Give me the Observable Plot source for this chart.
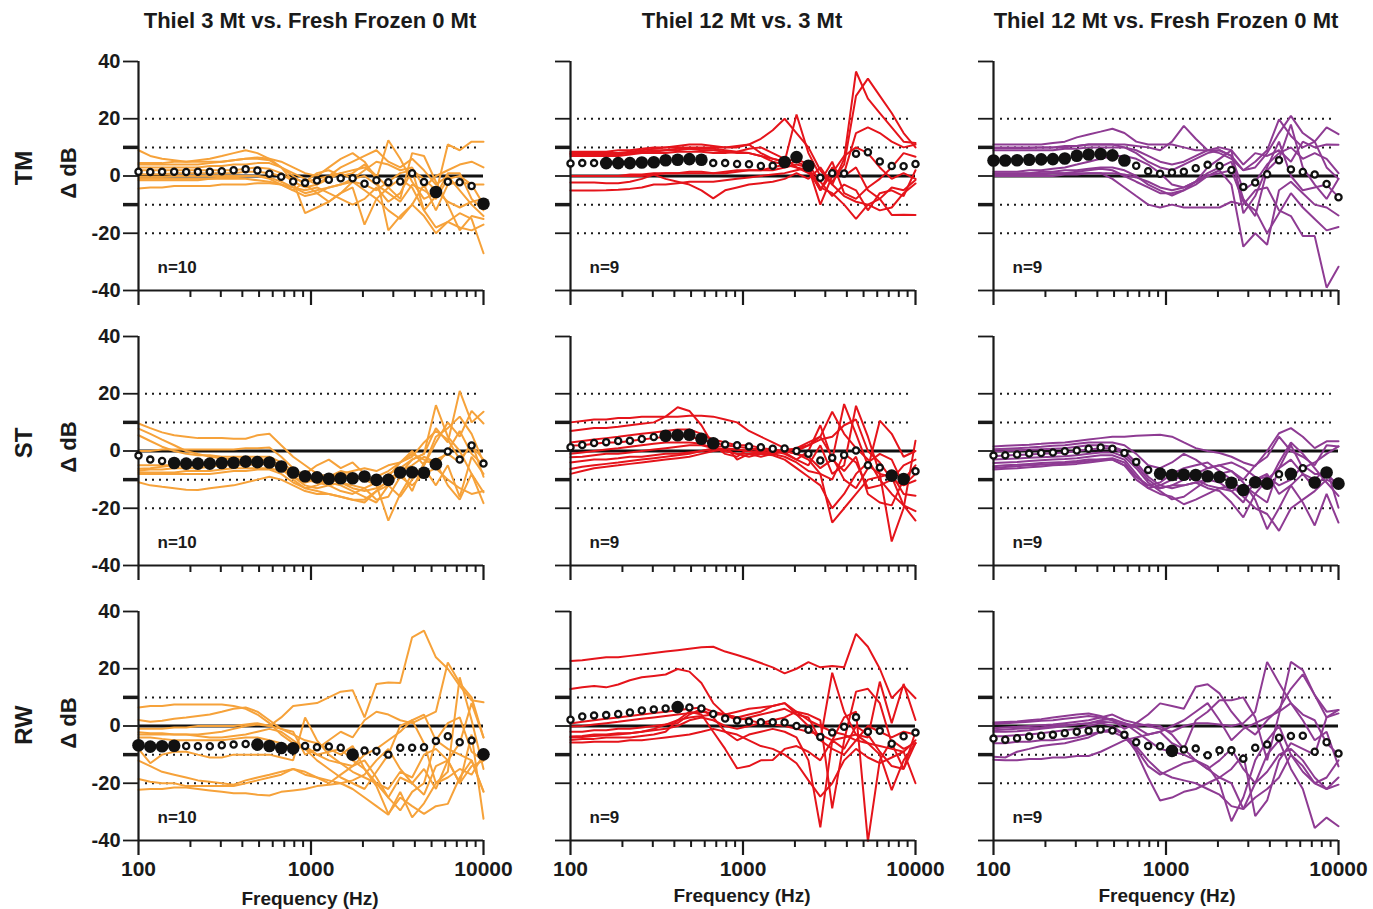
<!DOCTYPE html>
<html><head><meta charset="utf-8">
<script src="https://cdn.jsdelivr.net/npm/d3@7"></script>
<script src="https://cdn.jsdelivr.net/npm/@observablehq/plot@0.6"></script>
<style>
body{margin:0;background:#fff;font-family:"Liberation Sans",Arial,sans-serif;}
#root{position:relative;width:1373px;height:909px;overflow:hidden;background:#fff;}
.lbl{position:absolute;font-weight:bold;color:#1a1a1a;white-space:nowrap;transform:translate(-50%,-50%);line-height:1;}
.rot{transform:translate(-50%,-50%) rotate(-90deg);}
.pan{position:absolute;}
</style></head><body><div id="root"></div>
<script>
// ---- data ----
const freqs = [100,117,137,161,189,221,259,304,356,418,489,574,672,788,924,1083,1269,1487,1743,2043,2395,2807,3290,3857,4520,5298,6210,7279,8532,10000];
const titles = ["Thiel 3 Mt vs. Fresh Frozen 0 Mt","Thiel 12 Mt vs. 3 Mt","Thiel 12 Mt vs. Fresh Frozen 0 Mt"];
const rowNames = ["TM","ST","RW"];
const nLabels = ["n=10","n=9","n=9"];
const xMajorTicks = [100,1000,10000];
const xMinorTicks = [200,300,400,500,600,700,800,900,2000,3000,4000,5000,6000,7000,8000,9000];
const yMajorTicks = [-40,-20,0,20,40];
const yMinorTicks = [-10,10];
const gridValues = [-20,-10,10,20];

// TM, Thiel 3 Mt vs Fresh Frozen 0 Mt
const tmA = [
[9,7,6,5.5,5,5,5,5,5.5,6,6,5.5,3,0,-3,-6,-9,-6,-2,-5,-8,-12,-15,-10,-14,-20,-16,-13,-15,-27],
[4.5,4.5,4.5,5,5,5.5,6,7,8,9,8,6,3,1,-1,-3,0,3,5,7,9,5,3,6,2,-3,0,-5,-10,-14],
[4,4,4,4,4,4,4.5,5,5.5,6,6.5,6,5,3,1,0,3,6,8,5,-1,12.5,6,-2,-8,-6,11,9,12,12],
[3,3,3,3,3,3,3.5,3.5,4,4,4.5,4.5,3,-2,-13,-11,-9,-6,-4,-17,-8,-4,-1,-4,-12,-18,-16,-18,-19,-17],
[2,2,2,2,2,2,2,2,2,2.5,3,2.5,1,-2,-4,-3,-1,1,2,3,0,-19,-14,-10,-3,-12,-3,-2,-3,-3],
[0.6,0.6,0.6,1,1,1,1,1,1,1.5,1.5,1,0,-1,-2,-1,0,1,-1,2,5,4,2,3,-4,0,2,4,5,3],
[-0.3,-0.3,-0.3,0,0,0,0,0,0,0,0,-0.5,-2,-4,-5,-4,-6,-8,-10,-8,-4,-9,-6,2,-1,-5,-9,-11,-9,-8],
[-1,-1,-1,-1,-1,-1,-1,-0.5,-0.5,0,0,-1,-3,-5,-2,1,2,0,1,4,0,-4,-8,8,7,-2,-10,-19,-14,-15],
[-1.5,-1.5,-1.5,-1.5,-1.5,-1.5,-1,-1,-1,-1,-1.5,-2,-3,-5,-7,-6,-4,-3,-1,0,-3,-6,-9,-3,-5,-8,-1,0,-3,-10],
[-4.4,-4,-4,-3.5,-3.5,-3.5,-3.5,-3,-3,-3,-2.5,-2.5,-3,-4,-6,-5,-4,-3,-2,-3,-5,-2,1,2,-12,-7,1,1,-8,-12]];
const tmAMean = [1.5,1.4,1.5,1.5,1.4,1.5,1.5,1.7,2.0,2.4,1.9,0.8,-0.3,-1.9,-2.4,-1.6,-1.3,-0.8,-0.8,-2.7,-1.5,-2.2,-1.9,1.0,-2.1,-5.6,-2.0,-2.2,-3.5,-9.7];
const tmASig = [25,29];

// TM, Thiel 12 Mt vs 3 Mt
const tmB = [
[8.5,8.5,8.5,8.5,9,9,9.5,10,10,10.5,11,11,10.5,10,10,11,13,16,20,15,10,2,-3,6,36.5,27,22,17,12,11.5],
[8,8,8,8,8,8.5,9,9.5,10,10,10,10,10,10,10.5,11,8,6,5,21.5,8,0,-2,4,28,34,28,22,15,10],
[7.5,7.5,7.5,7.5,7.5,8,8,8.5,9,9,9.5,9.5,9.5,9,8.5,8,7,5,4,5,3,-10,0,1,15,17,15,12,10,11],
[7,7,7,7,7,7.5,8,8,8,8.5,8.5,8.5,8,8,8.5,9.5,10,8,6,3,1,-2,5,-6,-8,-4,-1,3,8,6.7],
[0,0,0,0,0,0.5,0.5,1,1,1,1.5,1.5,1,1,1.5,2,2,2,3,4,3,-4,-6,-10,-15,-10,-8,-4,-5,-1.4],
[0,0,0,0,0,0,0,0.5,1,1,1,1,1,1.5,2,2,2,3,4,3,2,-5,3,0,3,-5,-8,-13.6,-13.5,-13.6],
[-2.3,-2.3,-2.3,-2.5,-2.5,-2,-1,0.5,-1,-2,-3,-5,-7.8,-5,-4,-3,-2.5,-2,-1,1,-1,3,-3,-7,-9,-10,-12,-11,-6,-2.6],
[7.8,7.8,7.8,8,8,8,8.5,9,9,9.5,9.5,9,9,8.5,8,8,7,6,5,6,4,-2,-7,-3,-5,-12,-6,-5,-7,2],
[-5.1,-5.1,-5.1,-5,-4.8,-4.5,-4,-3,-3,-2.5,-2,-2,-2,-1.5,-1,-0.5,0,0.5,1,2,3,-5,1,7,10,8,3,-1,1,-1]];
const tmBMean = [4.4,4.5,4.5,4.5,4.5,4.5,4.7,4.8,5.5,5.7,5.9,5.7,4.5,4.5,4.2,4.1,3.5,3.6,4.9,6.6,3.6,-0.6,1.0,0.9,7.8,8.3,5.1,3.5,3.4,4.2];
const tmBSig = [3,4,5,6,7,8,9,10,11,18,19,20];

// TM, Thiel 12 Mt vs Fresh Frozen 0 Mt
const tmC = [
[11,11,11,11,11,11.5,12,13.5,14.5,15.5,16.5,15,12,11,11,11,10,9,9,9,7,2,5,9,19.8,14,10,12,17,14.6],
[10,10,10,10,10,10,10.5,10.5,11,11,11,11,10.5,10,9,12,17.5,13,9,8,6,2,3,8,15,21,15,12,3,-1],
[9,9,9,9,9,9,9.5,9.5,10,10,10,10,9,7,5,4,5,7,9,10,9,4,8,7,9,5,12,10,11,10.9],
[1.5,1.5,1.5,2,2,2.5,3,4,5,6,7,7,6,4,1,-3,-4,-2,3,6,9,-13,-7,3,12,0,-5,-4,-3,-7.4],
[1,1,1,1,1.5,1.5,2,2,2.5,3,3,2,0,-3,-5,-6.8,-5,-2,0,1,2,-9,-12,-20,-13,-6,-11,-15,-19,-17.8],
[0.7,0.7,0.8,1,1,1,1,1.5,2,2.5,2,0,-2,-4,-6,-6,-5,-3,0,2,-3,-24.7,-20,-24,-5,-2,-6,-10,-11,-13.8],
[0.5,0.5,0.5,0.5,0.5,1,1,1,1,1,-1,-4,-7,-10,-11,-10,-11,-11,-11,-11,-9,-10,-5,-4,-12,-14,-21,-21,-39,-31.7],
[0,0,0,0,0,0,0.5,0.5,1,1,1,0.5,-0.5,-2,-4,-5,-4,-2,1,3,5,-8,-14,2,6,18,3,-3,-8,-1],
[9.8,9.8,9.8,9.8,10,10,10,10.5,11,11,11,10,8,5,3,2,4,6,8,9,7,-5,-2,4,8,10,6,8,6,1]];
const tmCMean = [5.4,5.4,5.5,5.7,5.8,5.9,6.1,7.1,7.5,7.7,7.2,5.4,3.6,1.7,0.8,1.2,1.5,2.7,3.9,3.5,2.1,-3.8,-2.3,0.6,5.5,2.3,1.4,0.5,-2.8,-7.4];
const tmCSig = [0,1,2,3,4,5,6,7,8,9,10,11];

// ST, Thiel 3 Mt vs Fresh Frozen 0 Mt
const stA = [
[9.6,8,6.5,5.5,5,4.5,4.5,4.5,4.3,4.3,5.5,6,2,-2,-5,-8,-9,-7,-8,-10,-12,-8,-6,-3,-1,8,3,21,10,13.7],
[7.8,6,4,2,0,-1,-2,-2.5,-3,-3,-3,-3.5,-5,-8,-10,-11,-12,-11,-13,-14,-13,-11,-8,-3,-1,16,5,0,-8,-14.4],
[5.5,3.5,1.5,0,-1,-1.5,-1.5,-2,-2,-2,-2,-2,-4,-7,-8,-5,-3,-6,-4,-8,-12,-24.3,-15,-8,-6,-12,-5,-16,-2,-8],
[0,0,0.5,0.5,0.5,0.5,0.5,0.5,0.5,1,1,1.2,-2,-6,-9,-11,-10,-8,-7,-6,-7,-5,-4,0,-5,3,10,5,14,9.6],
[-6.2,-6,-5.5,-5,-5,-4.5,-4.5,-4,-4,-3.5,-3,-3,-5,-9,-12,-13,-12,-14,-15,-13,-11,-9,-4,-2,3,7,4,-3,2,-3],
[-6.8,-6.5,-6.5,-6,-6,-6,-5.5,-5,-5,-5,-4.5,-4.5,-6,-10,-13,-14,-15,-16,-17,-18,-14,-10,-7,-5,-2,-4,-12,-17,-8,-18.2],
[-7.4,-7.5,-7.5,-7.5,-7,-7,-7,-6.5,-6,-6,-6,-6,-7,-8,-9,-9,-11,-12,-14,-16,-18,-12,-16,-10,-5,5,8,12,6,-4],
[-8,-8,-8,-8,-8,-8,-8,-7.5,-7,-7,-6.5,-6.5,-8,-11,-13,-12,-10,-11,-12,-13,-17,-16,-9,-12,-8,-6,-10,-13,-15,-14],
[-10.9,-12,-12.5,-13,-13.5,-13.6,-13,-12.5,-12,-11,-10,-9,-10,-12,-14,-15,-15,-16,-17,-17,-14,-12,-7,-14,-4,-3,-1,-4,3,-9],
[-5,-5,-5,-5,-5,-5,-4.5,-4,-4,-4,-3.5,-3,-6,-9,-11,-10,-9,-8,-9,-10,-9,-7,-4,-1,-3,-5,0,7,-1,-5]];
const stAMean = [-1.6,-3.0,-3.5,-4.2,-4.4,-4.4,-4.4,-4.2,-4.1,-3.7,-3.9,-4.0,-5.4,-7.5,-8.8,-9.2,-9.7,-9.5,-9.5,-8.9,-10.1,-10.1,-7.5,-7.4,-7.6,-4.6,-0.2,-3.0,1.9,-4.4];
const stASig = [3,4,5,6,7,8,9,10,11,12,13,14,15,16,17,18,19,20,21,22,23,24,25];

// ST, Thiel 12 Mt vs 3 Mt
const stB = [
[10,10.5,11,11,11.5,11.5,12,12,12,12,12.3,12.3,12,11,10,7,5,3,1,0,2,4,5,9,11,0,-4,-10,-12,-10.3],
[7,7.5,8,8,8.5,9,9.5,10,12,15.3,14,9,2,-1,-2,1,0,-1,0,1,2,5,13.7,6,1,-3,-10,-15,-19,-21],
[3,3.5,4,4.5,5,5.5,6,6.5,7,7.5,7.5,6,4,3,2,2,1,0.5,0,-1,-3,-8,-25,-20,-15,-10,-9,-8,-15,-15.6],
[1.9,2,2.5,3,3,3.5,4,4.5,5,5.5,5,4,3,2,1.5,1,0.5,0,-1,-3,0,9,-3,16.4,6,-5,-8,-9,-19,-24.3],
[-1,-0.5,0,0.5,1,1.5,2,2.5,3,3,3,2.5,1,0,-1,-2,-1,0,-0.5,-3,-5,2,-8,-5,15.8,5,-8,-31.6,-20,3.6],
[-2.2,-2,-1.5,-1,-1,-0.5,0,0.5,1,1.5,2,2,1,0,-1,-1,-1,-0.5,0,1,3,5,-2,-10,-13,-6,10.6,6,-2,0],
[-4,-3.5,-3,-3,-2.5,-2,-2,-1.5,-1,-1,-0.5,0,1,2,-3,-1,-2,-1,0,-1,-2,-6,-3,-7,-2,-15,-18,-19,-10,-5],
[-6.3,-5.5,-5,-4.5,-4,-3.5,-3,-2.5,-2,-1.5,-1,0,0.5,1,0.5,0,-0.5,-1,-2,-4,-7,-8,-10,-1,-4,-13,-12,-10,-5,-3],
[-8,-7,-6,-5.5,-5,-4.5,-4,-3.5,-3,-2.5,-2,-1,0,0.5,0.5,0,-1,-1.5,-3,-6,-9,-12,-20,-15,-8,-4,-1,-3,-12,-8]];
const stBMean = [1.3,2.1,2.8,3.1,3.5,3.6,4.2,4.9,5.3,5.5,5.7,4.3,2.7,2.3,2.0,1.6,1.3,0.8,0.9,0,-1.0,-3.3,-2.4,-1.4,0.2,-5.0,-5.8,-8.6,-9.8,-7.1];
const stBSig = [8,9,10,11,12,27,28];

// ST, Thiel 12 Mt vs Fresh Frozen 0 Mt
const stC = [
[1.6,1.8,2,2.2,2.5,2.8,3,3.5,4,4.5,5,5,5.3,5.5,5.7,5,3,1,0,-0.7,-2,-4,-5.3,0,6.2,8,5,1,3.4,3.4],
[0.6,0.8,1,1.2,1.5,1.8,2,2.5,3,3,3,2,-1,-5,-6,-4,-1,-3,-6,-5,-7,-10,-5,-2,5,0,-2,-5,2,1.6],
[-0.1,0,0.2,0.4,0.6,0.8,1,1.5,2,2,1.5,0,-4,-9,-12,-13,-12,-11,-13,-14,-18,-23.2,-15,-10,-6,-3,-8,-13,-8,-12.3],
[-1.8,-1.6,-1.4,-1.2,-1,-0.8,-0.5,0,0.5,1,1,-1,-5,-10,-13,-12,-10,-8,-6,-5,-4,-6,-9,-12,-4,3,-1,-6,-11,-15.7],
[-3,-2.8,-2.6,-2.4,-2.2,-2,-1.8,-1.5,-1,-0.5,-0.5,-2,-6,-11,-14,-16.9,-16,-13,-10,-8,-7,-11,-17,-27.3,-20,-12,-8,-10,-6,-19.8],
[-4.2,-4,-3.8,-3.5,-3.2,-3,-2.8,-2.5,-2,-1.5,-1.5,-3,-8,-13,-15,-16,-18.6,-17,-15,-13,-12,-16,-20,-22,-27.9,-20,-17,-14,-10,-12],
[-5.3,-5,-4.8,-4.5,-4.2,-4,-3.8,-3.5,-3,-3,-2.5,-4,-9,-12,-11,-8,-6,-5,-4,-7,-10,-14,-10,-8,-15,-12,-18,-26,-15,-25],
[-5.9,-5.6,-5.3,-5,-4.8,-4.5,-4.2,-4,-3.5,-3,-3,-5,-10,-13,-12,-10,-9,-10,-12,-13,-14,-12,-15,-18,-6,2,-6,-4,-1,1.6],
[-6.5,-6.2,-6,-5.7,-5.4,-5,-4.8,-4.5,-4,-3.5,-3,-5,-9,-12,-13,-12,-12,-11,-10,-11,-14,-18,-10,-9,-12,-10,-5,-8,-8,-12]];
const stCMean = [-1.6,-1.5,-1.2,-0.9,-0.7,-0.5,-0.1,0.2,0.8,1.2,0.8,-0.7,-3.8,-6.6,-7.9,-8.4,-8.3,-8.4,-8.8,-9.1,-11.1,-13.6,-10.9,-11.4,-8.1,-8.0,-6.0,-11.0,-7.5,-11.4];
const stCSig = [14,15,16,17,18,19,20,21,22,23,25,27,28,29];

// RW, Thiel 3 Mt vs Fresh Frozen 0 Mt
const rwA = [
[6.5,7,7,7.5,7.5,7.5,7.5,7.5,7,6,4,1,-3,-6,-8,-10,-9,-8,-12,-15,-20,-22,-16,-18,-10,-8,-12,-20,-14,-12.1],
[2.1,1.5,1.8,2.5,3,3.5,4,5,6,6.5,5,2,-1,-3,-5,-6,-8,-10,-7,-15,-21,-30.7,-25,-28,-30.7,-28,-27.2,-18,-12,-22.8],
[-1,-1,-1,-0.5,-0.5,0,0,0,0,0.5,1,0,-1,-2,-10,-8,-5,-2,-4,2,5,4,2,1,3,5,22.2,15,10,-4],
[-2.2,-2.5,-2.5,-3,-3,-3,-2.5,-2,-1,0,0.5,0,3,7,7.5,8,10,12,12.5,3,14.7,15.2,15,31,33.3,24,20,14,9,8.3],
[-3,-3,-3,-3,-3,-3.5,-4,-4,-3.5,-3,-2,-1,-2,-5,-8,-12,-15,-18,-20,-22,-16,-10,0,2,-6,-20,-16,17,2,-15],
[-4,-4,-4.5,-5,-5,-5,-5,-5,-4.5,-4,-4,-5,-6,-8,-7,-10,-12,-13,-14,-10,-8,-5,-2,2,4,-5,-8,-10,-12,-23],
[-8,-13,-10,-9,-9,-10,-11,-11,-10,-10,-10,-10,-11,-12,3,-5,-10,-13,-16,-18,-20,-25,-18,-20,-15,-22,-12,-20,-3,-32.4],
[-12.1,-14,-16,-17,-18,-19,-19.5,-20,-20.5,-19,-18,-17,-16,-15,-17,-18,-20,-17,-14,-12,-18,-25,-29.5,-23,-20,-5,1,3,-9,-12.1],
[-18.5,-19.5,-20,-20,-21,-21,-21,-21,-21,-20,-19,-18,-17,-15,-16,-18,-19,-20,-22,-25,-28,-31,-23,-31.9,-27,-20,-18,-15,-17,-10],
[-22.3,-22,-22,-21.5,-21.5,-22,-22.5,-23,-23.5,-23.5,-24,-24.3,-23,-22.5,-22,-21,-20.5,-20,-19,-17,-12,-8,-15,-20,-24,-14,-12,-6,8,-4]];
const rwAMean = [-6.7,-7.2,-7.1,-6.9,-7.0,-7.1,-7.1,-6.7,-6.5,-6.3,-6.5,-7.0,-7.7,-7.8,-7.0,-7.4,-7.2,-7.6,-10.0,-8.6,-8.7,-10.0,-7.6,-7.6,-7.4,-5.2,-3.6,-5.7,-5.1,-9.9];
const rwASig = [0,1,2,3,10,11,12,13,18,29];

// RW, Thiel 12 Mt vs 3 Mt
const rwB = [
[22.7,23,23.5,24,24,24.5,25,25.5,26,26.5,27,27.5,27.7,26,24.8,23.5,22,20.5,18.4,20,22.3,20.5,21,20.5,32.2,27.7,20,9.7,14,9.7],
[12.9,13.5,14,13.5,14.5,16,17,17.5,18,19.9,19,15,8,4,2,3,4,5,6,4,0,-5,-8,-10,-5,0,-2,-4,-2,-3],
[0.9,1.5,2,2.5,3,3.5,4,4.5,5,5.5,6,6.5,5,4,3,4,5,7,8,4,3,-5,18.6,5,-3,-6,-10,-22.4,-12,-6],
[-0.2,0,0.5,1,1.5,2,2.5,3,3.5,4,4.5,5,4.5,4,5,6,6.5,7,8,5,2,0,-2,-3,-5,-6,-7,-8,-9,-20],
[-2,-2,-1.5,-1.5,-1,-1,-0.5,0,0.5,1,4,6,3,-2,-5,-3,-2,-1,-2,-4,-12,-35.4,-5,-8,0,-3,-9,-14,-15,-2],
[-3.7,-3.5,-3,-3,-2.5,-2.5,-2,-1.5,-1,0,2,3,2,0,-1,0,1,2,3,5,4,2,-28.8,-5,12,13,8,-6,-15,-6],
[-4.9,-4.5,-4.5,-4,-4,-4,-3.5,-3,-2,2,5,4,-2,-8,-14.8,-14,-12,-11.9,-8,-7,-9,-12,-5,3,5,-40.4,-12,-5,-8,-6],
[-5.8,-5.8,-5.5,-5.5,-5.5,-5,-5,-4.5,-4,-3.5,-3,-2,-1,-2,-3,-5,-7,-8,-10,-13,-19,-24.7,-20,-12,-8,-11,-13,-11,-9,-5],
[-4,-3.8,-3.5,-3.2,-3,-2.5,-2,-1,0.5,2,3,3.5,4,4,3,2,1,0.5,0,-1,-2,-3,-5,-4,-3,-4,15.5,1,14.7,2.1]];
const rwBMean = [2.2,3.3,3.7,3.8,4.2,4.7,5.4,5.8,6.1,6.6,6.5,6.1,4.2,2.6,1.9,1.6,1.3,1.3,1.2,0,-1.3,-3.8,-2.3,-0.3,3.1,-2.0,-1.7,-6.2,-3.6,-2.3];
const rwBSig = [9];

// RW, Thiel 12 Mt vs Fresh Frozen 0 Mt
const rwC = [
[1.2,1.4,1.6,2,2.4,3,3.5,4,4.4,3.5,2,-1,1,4,7.9,7,6,13.7,14.6,11.4,5,0,-3,2,6,13,18,10.8,5,5.6],
[0.7,1,1.2,1.5,1.8,2,2.5,3,3.5,3,2,1,0,0.5,0,-3,-8,2,5,9,9,10,3,-12,4,22.4,19.5,10.8,3,4.4],
[-0.8,-0.5,-0.3,0,0.3,0.5,1,1.5,2,3,4,2,1,0,-1,-2,0,1,1,0.5,0,1,5,22.4,15,8,2,-5,-2,-14.1],
[-2,-2,-1.8,-1.5,-1,-0.5,0,0.5,1,2,2.5,1,-2,-5,-8,-9,-10,-12,-15,-12,-8,-15,-20,-16,-10,-8,-12,-18,-22,-20.5],
[-3.7,-3.5,-3.2,-3,-2.5,-2,-1.5,-1,0,1,0,-3,-7,-12,-16,-18,-19,-20,-22,-24,-28,-29,-20,-10,-5,-15,-22,-35.6,-32,-35],
[-6,-6,-5.5,-5.5,-5,-5,-4.5,-4,-3,-2,-2,-4,-8,-14,-17,-15,-13,-12,-14,-20,-33.3,-25,-12,-5,0,-10,-16,-20,-18,-12],
[-10.7,-11,-9,-8,-7,-6.5,-6,-5,-4,-2,-1,-3,-9,-18,-26,-25,-23,-22,-20,-18,-15,-10,-31.5,-26,-12,-6,-8,-10,3,5.6],
[-11.8,-12,-12,-11.5,-11.5,-11,-11,-10.5,-10.5,-9,-7,-5,-4,-3,-2,-6,-8,-12,-15,-18,-20,-29,-25,-22,-18,-10,-14,-20,-22,-18],
[-1.5,-1.2,-1,-0.8,-0.5,0,0.3,0.6,1,1.5,1.2,0.5,-0.5,-3,-2,0,2,5,8,2,-5,-1,1,3,5,8,4,2,-6,-10]];
const rwCMean = [-4.4,-4.8,-4.3,-3.7,-3.4,-3.1,-2.5,-2.0,-1.7,-1.2,-1.6,-3.1,-5.7,-7.0,-7.1,-8.7,-8.2,-7.9,-10.2,-8.5,-8.5,-11.4,-7.6,-6.5,-4.1,-3.5,-3.4,-9.0,-5.7,-9.6];
const rwCSig = [15];

const colors = ["#F6A23A","#E5141B","#8E3B93"];

// ---- layout ----
const panels = [
  [tmA,tmAMean,tmASig],[tmB,tmBMean,tmBSig],[tmC,tmCMean,tmCSig],
  [stA,stAMean,stASig],[stB,stBMean,stBSig],[stC,stCMean,stCSig],
  [rwA,rwAMean,rwASig],[rwB,rwBMean,rwBSig],[rwC,rwCMean,rwCSig]
];
const colX = [138,570,993], rowY = [61,336,611], PW = 345, PH = 229;
const ML = 70, MR = 35, MT = 10;
const root = document.getElementById("root");
const ink = "#1a1a1a";
const noText = () => "";

panels.forEach(([lines, mean, sig], idx) => {
  const row = Math.floor(idx/3), col = idx%3;
  const MB = row === 2 ? 60 : 30;
  const lineData = lines.flatMap((arr,i) => arr.map((v,k) => ({id:i, f:freqs[k], v})));
  const meanData = mean.map((v,k) => ({f:freqs[k], v, s:sig.includes(k)}));
  const svg = Plot.plot({
    width: ML+PW+MR, height: MT+PH+MB,
    marginLeft: ML, marginRight: MR, marginTop: MT, marginBottom: MB,
    style: {background:"transparent", fontFamily:"'Liberation Sans', Arial, sans-serif", fontWeight:"bold", color:ink, overflow:"visible"},
    x: {type:"log", domain:[100,10000]},
    y: {domain:[-40,40]},
    marks: [
      Plot.ruleY(gridValues, {stroke:ink, strokeWidth:2, strokeDasharray:"2 5", insetLeft:7, insetRight:3}),
      Plot.ruleY([0], {stroke:"#111", strokeWidth:3}),
      Plot.line(lineData, {x:"f", y:"v", z:"id", stroke:colors[col], strokeWidth:2, strokeLinejoin:"miter"}),
      Plot.ruleX([100], {stroke:ink, strokeWidth:2.2}),
      Plot.ruleY([-40], {stroke:ink, strokeWidth:2.2}),
      Plot.axisY({ticks:yMajorTicks, tickSize:15, tickPadding:3, strokeWidth:1.8, fontSize:20, label:null,
                  tickFormat: col === 0 ? (d => String(d)) : noText}),
      Plot.axisY({ticks:yMinorTicks, tickSize:15, strokeWidth:3.5, label:null, tickFormat:noText}),
      Plot.axisX({ticks:xMajorTicks, tickSize:15, tickPadding:6, strokeWidth:2.2, fontSize:21, label:null,
                  tickFormat: row === 2 ? (d => String(d)) : noText}),
      Plot.axisX({ticks:xMinorTicks, tickSize:7, strokeWidth:2, label:null, tickFormat:noText}),
      Plot.dot(meanData.filter(d => !d.s), {x:"f", y:"v", r:3.1, fill:"white", stroke:"#111", strokeWidth:2.3}),
      Plot.dot(meanData.filter(d => d.s), {x:"f", y:"v", r:6.3, fill:"#111"}),
      Plot.text([nLabels[col]], {frameAnchor:"bottom-left", dx:19, dy:-23, textAnchor:"start", lineAnchor:"middle", fontSize:17, fill:ink})
    ]
  });
  const wrap = document.createElement("div");
  wrap.className = "pan";
  wrap.style.left = (colX[col]-ML) + "px";
  wrap.style.top = (rowY[row]-MT) + "px";
  wrap.appendChild(svg);
  root.appendChild(wrap);
});

function label(text, x, y, size, rot) {
  const d = document.createElement("div");
  d.className = "lbl" + (rot ? " rot" : "");
  d.textContent = text;
  d.style.left = x + "px"; d.style.top = y + "px"; d.style.fontSize = size + "px";
  root.appendChild(d);
}
const titleX = [310, 742, 1166];
titles.forEach((t,i) => label(t, titleX[i], 21, 22, false));
const rowLabelY = [168, 443, 725];
const dbY = [173, 447, 723];
rowNames.forEach((t,i) => { label(t, 24, rowLabelY[i], 24, true); label("Δ dB", 69, dbY[i], 22, true); });
const freqLabelX = [310, 742, 1167];
const freqLabelY = [898, 895, 895];
freqLabelX.forEach((x,i) => label("Frequency (Hz)", x, freqLabelY[i], 19, false));
</script></body></html>
